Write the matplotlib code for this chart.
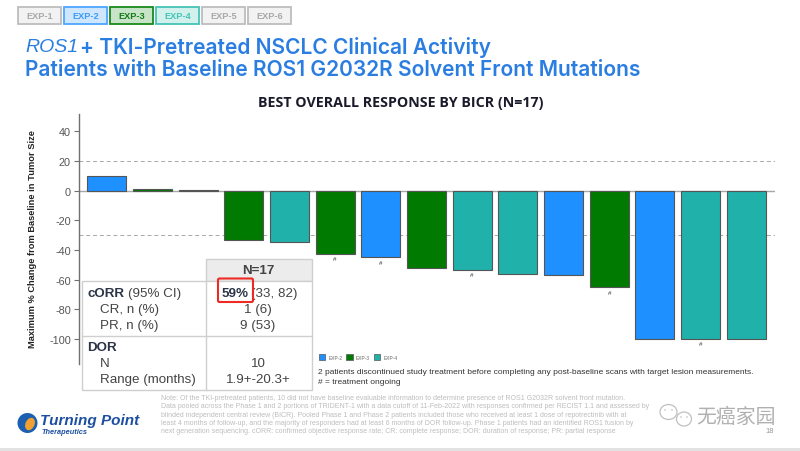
import matplotlib
matplotlib.use("Agg")
import matplotlib.pyplot as plt
from matplotlib.patches import Rectangle, FancyBboxPatch, Circle, Ellipse, Patch

plt.rcParams['font.family'] = ['Liberation Sans', 'DejaVu Sans']
plt.rcParams['axes.unicode_minus'] = False

# Best response per patient, from the waterfall
cohorts = ["EXP-2", "EXP-3", "EXP-4", "EXP-3", "EXP-4", "EXP-3", "EXP-2", "EXP-3",
           "EXP-4", "EXP-4", "EXP-2", "EXP-3", "EXP-2", "EXP-4", "EXP-4"]
changes = [10, 0.8, 0.2, -33, -34.7, -42.8, -45, -52.3, -53.4, -56.3, -57.2, -65.3, -100, -100, -100]
ongoing = [5, 6, 8, 11, 13]
yticks = [40, 20, 0, -20, -40, -60, -80, -100]
ref_lines = [20, -30]

colors = {"EXP-2": "#1e90ff", "EXP-3": "#007a00", "EXP-4": "#20b2aa"}
legend_names = ["EXP-2", "EXP-3", "EXP-4"]

tabs = ["EXP-1", "EXP-2", "EXP-3", "EXP-4", "EXP-5", "EXP-6"]
tab_face = ["#f2f2f2", "#cfe6ff", "#c8e4c8", "#d2f0ec", "#f2f2f2", "#f2f2f2"]
tab_edge = ["#bdbdbd", "#4da6ff", "#1a8a1a", "#45c4b8", "#bdbdbd", "#bdbdbd"]
tab_text = ["#a8a8a8", "#3f9bf5", "#137a13", "#45c4b8", "#a8a8a8", "#a8a8a8"]

footnote = [
    "Note: Of the TKI-pretreated patients, 10 did not have baseline evaluable information to determine presence of ROS1 G2032R solvent front mutation.",
    "Data pooled across the Phase 1 and 2 portions of TRIDENT-1 with a data cutoff of 11-Feb-2022 with responses confirmed per RECIST 1.1 and assessed by",
    "blinded independent central review (BICR). Pooled Phase 1 and Phase 2 patients included those who received at least 1 dose of repotrectinib with at",
    "least 4 months of follow-up, and the majority of responders had at least 6 months of DOR follow-up. Phase 1 patients had an identified ROS1 fusion by",
    "next generation sequencing. cORR: confirmed objective response rate; CR: complete response; DOR: duration of response; PR: partial response",
]

W, H = 800, 452
fig = plt.figure(figsize=(W / 100, H / 100), dpi=100)

# Chart axes, placed in pixels
left, right, top, bottom = 78.7, 775, 115, 365
ax = fig.add_axes([left / W, 1 - bottom / H, (right - left) / W, (bottom - top) / H])
ax.set_xlim(-0.6165, 14.63)
ax.set_ylim(-117, 51.7)

for v in ref_lines:
    ax.axhline(v, color="#a8a8a8", lw=0.7, ls=(0, (4, 3)), zorder=1)
ax.axhline(0, color="#a8a8a8", lw=1.0, zorder=1)
ax.bar(range(len(changes)), changes, width=0.855,
       color=[colors[c] for c in cohorts], edgecolor="#555555", lw=0.8, zorder=2)
for i in ongoing:
    ax.text(i, changes[i] - 3.3, "#", ha="center", va="center", fontsize=4.5, color="#333333")

for s in ["top", "right", "bottom"]:
    ax.spines[s].set_visible(False)
ax.spines["left"].set_color("#707070")
ax.spines["left"].set_linewidth(1.0)
ax.set_xticks([])
ax.set_yticks(yticks)
ax.tick_params(axis="y", labelsize=7.8, labelcolor="#555555", color="#707070", length=3.6, width=0.8, pad=2)

handles = [Patch(facecolor=colors[n], edgecolor="#555555", lw=0.5, label=n) for n in legend_names]
ax.legend(handles=handles, ncols=3, fontsize=3.5, frameon=False, loc="center left",
          bbox_to_anchor=(314.5 / W, 1 - 358 / H), bbox_transform=fig.transFigure,
          handlelength=1.35, handleheight=1.35, handletextpad=0.6, columnspacing=0.8,
          labelcolor="#666666")

# Overlay in pixel coordinates for the slide furniture
ov = fig.add_axes([0, 0, 1, 1], zorder=5)
ov.set_xlim(0, W)
ov.set_ylim(H, 0)
ov.axis("off")
ov.patch.set_alpha(0)

# Cohort tabs
tab_x = [18, 64, 110, 156, 202, 248]
for x, name, fc, ec, tc in zip(tab_x, tabs, tab_face, tab_edge, tab_text):
    ov.add_patch(Rectangle((x, 8), 42.5, 16.5, facecolor=fc, edgecolor=ec, lw=1.3))
    ov.text(x + 21.3, 16.5, name, ha="center", va="center", fontsize=6.6, fontweight="bold", color=tc)

# Title
blue = "#2a7de1"
ov.text(25, 47, "ROS1", fontsize=14, color=blue, style="italic", va="center")
ov.text(80, 47, "+ TKI-Pretreated NSCLC Clinical Activity", fontsize=15.1, color=blue, va="center",
        family="Inter", fontweight="semibold")
ov.text(25, 70, "Patients with Baseline ROS1 G2032R Solvent Front Mutations", fontsize=15.1, color=blue,
        va="center", family="Inter", fontweight="semibold")

ov.text(400.5, 103, "BEST OVERALL RESPONSE BY BICR (N=17)", ha="center", va="center", fontsize=10.3,
        fontweight="bold", color="#1a1a2a", family="Open Sans")
ov.text(33, 239, "Maximum % Change from Baseline in Tumor Size", rotation=90, ha="center", va="center",
        fontsize=6.7, fontweight="bold", color="#222222")

# Results table
line_c = "#cfcfcf"
ov.add_patch(Rectangle((205.5, 260), 106.5, 22, facecolor="#ececec", edgecolor=line_c, lw=1))
ov.add_patch(Rectangle((81.5, 282), 230.5, 108.5, facecolor="white", edgecolor=line_c, lw=1))
ov.plot([81.5, 312], [336.7, 336.7], color=line_c, lw=1)
ov.plot([205.5, 205.5], [282, 390.5], color=line_c, lw=1)

tc = "#2b3547"
fs = 9.6
ov.text(258, 271, "N=17", ha="center", va="center", fontsize=fs, fontweight="bold", color="#444444")
ov.text(87.5, 294.5, "cORR", va="center", fontsize=fs, fontweight="bold", color=tc)
ov.text(128, 294.5, "(95% CI)", va="center", fontsize=fs, color="#444444")
ov.text(99.5, 310.5, "CR, n (%)", va="center", fontsize=fs, color="#444444")
ov.text(99.5, 326.5, "PR, n (%)", va="center", fontsize=fs, color="#444444")
ov.text(87.5, 348.5, "DOR", va="center", fontsize=fs, fontweight="bold", color=tc)
ov.text(99.5, 364.5, "N", va="center", fontsize=fs, color="#444444")
ov.text(99.5, 380.5, "Range (months)", va="center", fontsize=fs, color="#444444")
ov.text(222, 294.5, "59%", va="center", fontsize=fs, fontweight="bold", color=tc)
ov.text(251, 294.5, "(33, 82)", va="center", fontsize=fs, color="#444444")
ov.text(258, 310.5, "1 (6)", ha="center", va="center", fontsize=fs, color="#444444")
ov.text(258, 326.5, "9 (53)", ha="center", va="center", fontsize=fs, color="#444444")
ov.text(258, 364.5, "10", ha="center", va="center", fontsize=fs, color="#444444")
ov.text(258, 380.5, "1.9+-20.3+", ha="center", va="center", fontsize=fs, color="#444444")
ov.add_patch(FancyBboxPatch((218, 279.5), 35, 23.5, boxstyle="round,pad=0,rounding_size=1.5",
                            facecolor="none", edgecolor="#ee2a24", lw=1.5, zorder=6))

# Notes under the legend
ov.text(318, 373, "2 patients discontinued study treatment before completing any post-baseline scans with target lesion measurements.",
        va="center", fontsize=6.0, color="#333333")
ov.text(318, 383, "# = treatment ongoing", va="center", fontsize=6.0, color="#333333")

for i, line in enumerate(footnote):
    ov.text(161, 398.7 + i * 8.25, line, va="center", fontsize=5.08, color="#bdbdbd")

# Logo
ov.add_patch(Circle((27.5, 424), 10, facecolor="#1c5fb0", edgecolor="none"))
ov.add_patch(Ellipse((30, 425), 9, 13, angle=25, facecolor="#f0a030", edgecolor="none"))
ov.text(40, 421.5, "Turning Point", va="center", fontsize=11, fontweight="bold", style="italic", color="#1c4fa0")
ov.text(41, 432.7, "Therapeutics", va="center", fontsize=5.3, fontweight="bold", style="italic", color="#1c4fa0")

# Watermark and page number
ov.add_patch(Ellipse((668.5, 413), 17, 15, facecolor="white", edgecolor="#c0c0c0", lw=0.9))
ov.add_patch(Ellipse((684, 420), 15, 14, facecolor="white", edgecolor="#c0c0c0", lw=0.9))
for ex, ey in [(665, 411), (672, 411), (681, 418), (687, 418)]:
    ov.add_patch(Circle((ex, ey), 0.8, facecolor="#c0c0c0", edgecolor="none"))
ov.text(696, 417, "无癌家园", va="center", fontsize=14.3, color="#b0b0b0",
        family=["Noto Sans CJK SC", "DejaVu Sans"])
ov.text(770, 432, "18", ha="center", va="center", fontsize=5.5, color="#999999")

# Grey strip along the bottom edge of the slide
ov.add_patch(Rectangle((0, 449), W, 3, facecolor="#e2e2e2", edgecolor="none"))

fig.savefig("out.png", dpi=100)
